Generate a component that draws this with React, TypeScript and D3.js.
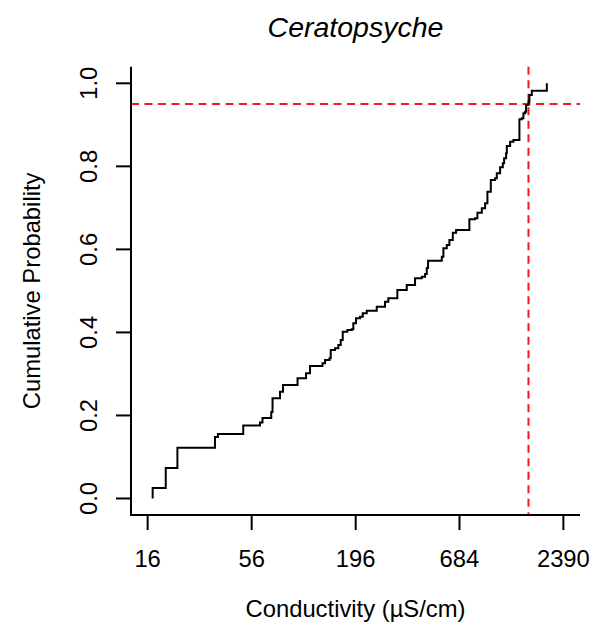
import React from "react";
import * as d3 from "d3";

const title = "Ceratopsyche";
const xLabel = "Conductivity (µS/cm)";
const yLabel = "Cumulative Probability";
const xTicks = [16, 56, 196, 684, 2390];
const yTicks = [0, 0.2, 0.4, 0.6, 0.8, 1.0];
const xc95 = 1570;
const pRef = 0.95;

// conductivity at each jump of the ECDF
const conductivity = [
  17.0, 19.9, 22.9, 36.0, 37.3, 50.6, 61.9, 63.8, 70.9, 72.0,
  78.8, 81.7, 97.3, 107.8, 113.1, 131.4, 135.5, 143.0, 145.1, 152.8,
  159.0, 163.7, 167.7, 177.2, 186.9, 190.5, 196.8, 206.5, 213.4, 223.9,
  252.5, 279.1, 290.4, 323.7, 362.5, 400.6, 434.4, 452.0, 461.3, 468.6,
  552.8, 563.6, 587.1, 605.7, 631.1, 656.7, 770.7, 825.6, 848.8, 895.0,
  931.4, 957.5, 997.4, 1050.5, 1072.2, 1115.7, 1152.6, 1170.9, 1199.4, 1209.5,
  1258.6, 1309.5, 1407.7, 1449.0, 1477.2, 1507.8, 1526.1, 1568.8, 1587.9, 1634.5,
  1958.4,
];
// cumulative probability after each jump
const cumProb = [
  0.0253, 0.0735, 0.1223, 0.1481, 0.1553, 0.1758, 0.183, 0.1939, 0.2083, 0.2413,
  0.2572, 0.2734, 0.2895, 0.3015, 0.3191, 0.3256, 0.3336, 0.3377, 0.3577, 0.3618,
  0.3697, 0.3817, 0.4017, 0.4058, 0.4075, 0.422, 0.434, 0.4379, 0.4461, 0.4523,
  0.4619, 0.474, 0.4822, 0.5022, 0.5142, 0.5303, 0.5342, 0.5407, 0.5552, 0.5727,
  0.5824, 0.6026, 0.6105, 0.6226, 0.6402, 0.6467, 0.6724, 0.6749, 0.6883, 0.6989,
  0.711, 0.7389, 0.7671, 0.7712, 0.7832, 0.7977, 0.8073, 0.8194, 0.8314, 0.849,
  0.8593, 0.8634, 0.9133, 0.9157, 0.9277, 0.9316, 0.9477, 0.9557, 0.9718, 0.9822,
  1.0,
];

const W = 612;
const H = 634;
const left = 131, right = 580, top = 66.7, bottom = 515.1;
const FONT = "'Liberation Sans', Arial, Helvetica, sans-serif";
const FS = 23.8;

export default function App() {
  const ext = Math.pow(2390 / 16, 0.04);
  const x = d3.scaleLog().domain([16 / ext, 2390 * ext]).range([left, right]);
  const y = d3.scaleLinear().domain([-0.04, 1.04]).range([bottom, top]);

  const pts: [number, number][] = [[conductivity[0], 0]];
  conductivity.forEach((c, i) => pts.push([c, cumProb[i]]));
  const line = d3
    .line<[number, number]>()
    .x((d) => x(d[0]))
    .y((d) => y(d[1]))
    .curve(d3.curveStepAfter);

  const tickLen = 15;
  return (
    <svg
      width={W}
      height={H}
      style={{ position: "absolute", left: 0, top: 0, background: "#fff" }}
      fontFamily={FONT}
    >
      <rect x={0} y={0} width={W} height={H} fill="#fff" />
      <text x={(left + right) / 2} y={37} textAnchor="middle" fontSize={28.5} fontStyle="italic">
        {title}
      </text>
      {/* reference lines */}
      <line x1={left} x2={right} y1={y(pRef)} y2={y(pRef)} stroke="#f2191e" strokeWidth={2} strokeDasharray="8,5.5" />
      <line x1={x(xc95)} x2={x(xc95)} y1={top} y2={bottom} stroke="#f2191e" strokeWidth={2} strokeDasharray="8,5.5" />
      {/* ECDF */}
      <path d={line(pts) || ""} fill="none" stroke="#000" strokeWidth={2} />
      {/* L box */}
      <path d={`M${left},${top}V${bottom}H${right}`} fill="none" stroke="#000" strokeWidth={2} />
      {/* x axis */}
      {xTicks.map((t) => (
        <g key={t}>
          <line x1={x(t)} x2={x(t)} y1={bottom} y2={bottom + tickLen} stroke="#000" strokeWidth={2} />
          <text x={x(t)} y={567} textAnchor="middle" fontSize={FS}>
            {t}
          </text>
        </g>
      ))}
      {/* y axis */}
      {yTicks.map((t) => (
        <g key={t}>
          <line x1={left - tickLen} x2={left} y1={y(t)} y2={y(t)} stroke="#000" strokeWidth={2} />
          <text
            transform={`translate(96.5,${y(t)}) rotate(-90)`}
            textAnchor="middle"
            fontSize={FS}
          >
            {t.toFixed(1)}
          </text>
        </g>
      ))}
      <text x={(left + right) / 2} y={617} textAnchor="middle" fontSize={FS}>
        {xLabel}
      </text>
      <text
        transform={`translate(39.5,${(top + bottom) / 2}) rotate(-90)`}
        textAnchor="middle"
        fontSize={FS}
      >
        {yLabel}
      </text>
    </svg>
  );
}
